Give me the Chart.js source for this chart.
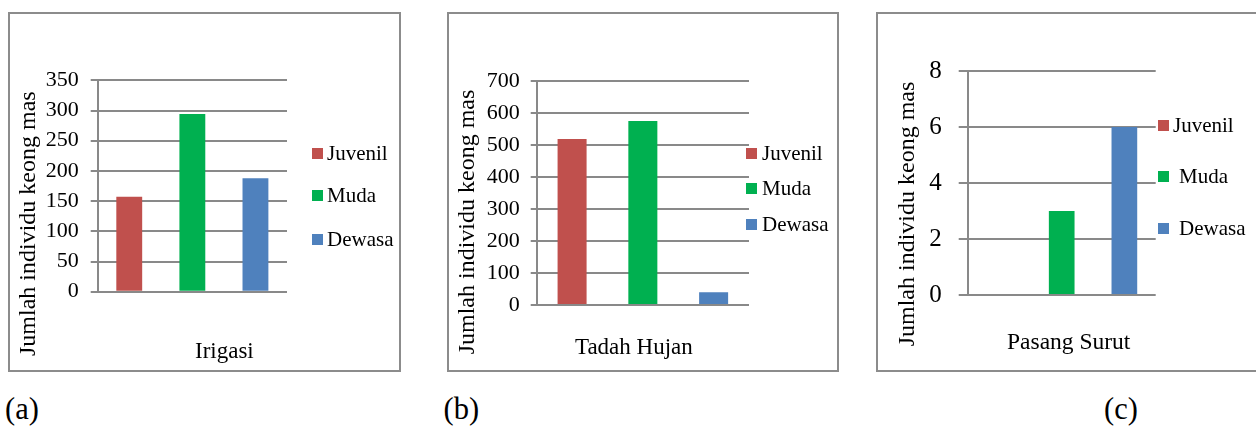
<!DOCTYPE html>
<html>
<head>
<meta charset="utf-8">
<script src="https://cdn.jsdelivr.net/npm/chart.js@4.4.1/dist/chart.umd.min.js"></script>
<style>
  html, body { margin: 0; padding: 0; background: #fff; }
  body { width: 1256px; height: 426px; position: relative; overflow: hidden;
         font-family: "Liberation Serif", "Times New Roman", serif; color: #000; }
  .panel { position: absolute; top: 12px; height: 360px; box-sizing: border-box;
           border: 2px solid #8c8c8c; }
  canvas.plot { position: absolute; top: 12px; }
  .key { position: absolute; width: 11px; height: 11px; }
  .key-text { position: absolute; font-size: 21px; line-height: 21px; white-space: pre; }
  .tag { position: absolute; font-size: 30.5px; line-height: 30.5px; }
</style>
</head>
<body>
<script>
// ---- data ----
const seriesNames = ['Juvenil', 'Muda', 'Dewasa'];

const irigasiCategory = ['Irigasi'];
const irigasiValues = [157, 294, 188];
const irigasiTicks = [0, 50, 100, 150, 200, 250, 300, 350];

const tadahHujanCategory = ['Tadah Hujan'];
const tadahHujanValues = [519, 575, 40];
const tadahHujanTicks = [0, 100, 200, 300, 400, 500, 600, 700];

const pasangSurutCategory = ['Pasang Surut'];
const pasangSurutValues = [0, 3, 6];
const pasangSurutTicks = [0, 2, 4, 6, 8];

const yAxisTitle = 'Jumlah individu keong mas';
const panelTags = ['(a)', '(b)', '(c)'];

// ---- styles ----
const seriesColors = ['#C0504D', '#00B050', '#4F81BD'];
const gridColor = '#898989';
const serif = '"Liberation Serif", "Times New Roman", serif';

// ---- per-panel layout ----
const panels = [
  { category: irigasiCategory, values: irigasiValues, ticks: irigasiTicks,
    left: 8, width: 393,
    pad: { top: 68.3, right: 114, bottom: 5, left: 0 },
    titlePad: 6.5, yWidth: 54.4, xHeight: 75.3,
    tickSize: 22, tickLen: 7, tickPad: 12,
    catSize: 23, catPad: 46.9, catShift: 32,
    keyX: 312, keyY: [148, 190, 234], keyTextX: [327, 327, 327],
    tagX: 5, tagY: 394 },
  { category: tadahHujanCategory, values: tadahHujanValues, ticks: tadahHujanTicks,
    left: 447, width: 392,
    pad: { top: 69, right: 90, bottom: 9, left: 0 },
    titlePad: 6.1, yWidth: 54.8, xHeight: 58,
    tickSize: 22, tickLen: 6, tickPad: 11,
    catSize: 23, catPad: 29.2, catShift: -9,
    keyX: 746, keyY: [148, 183, 219], keyTextX: [762, 762, 762],
    tagX: 443.5, tagY: 394 },
  { category: pasangSurutCategory, values: pasangSurutValues, ticks: pasangSurutTicks,
    left: 876, width: 400,
    pad: { top: 59, right: 120.3, bottom: 15, left: 0 },
    titlePad: 17.1, yWidth: 45.8, xHeight: 62,
    tickSize: 25, tickLen: 9, tickPad: 17,
    catSize: 23.5, catPad: 33.7, catShift: 7,
    keyX: 1158, keyY: [119.5, 171, 223], keyTextX: [1173, 1179, 1179],
    tagX: 1104, tagY: 394 }
];

Chart.defaults.font.family = serif;

function addEl(cls, css, text) {
  const el = document.createElement('div');
  el.className = cls;
  Object.assign(el.style, css);
  if (text !== undefined) el.textContent = text;
  document.body.appendChild(el);
  return el;
}

panels.forEach((p, idx) => {
  // frame around each chart
  addEl('panel', { left: p.left + 'px', width: p.width + 'px' });

  const canvas = document.createElement('canvas');
  canvas.className = 'plot';
  canvas.width = p.width;
  canvas.height = 360;
  canvas.style.left = p.left + 'px';
  document.body.appendChild(canvas);

  const yMin = p.ticks[0];
  const yMax = p.ticks[p.ticks.length - 1];
  const yStep = p.ticks[1] - p.ticks[0];

  new Chart(canvas, {
    type: 'bar',
    data: {
      labels: p.category,
      datasets: seriesNames.map((name, i) => ({
        label: name,
        data: [p.values[i]],
        backgroundColor: seriesColors[i],
        borderWidth: 0,
        categoryPercentage: 1,
        barPercentage: 0.41
      }))
    },
    options: {
      responsive: false,
      maintainAspectRatio: false,
      animation: false,
      devicePixelRatio: 1,
      layout: { padding: p.pad },
      plugins: {
        legend: { display: false },
        tooltip: { enabled: false },
        title: {
          display: true,
          text: yAxisTitle,
          position: 'left',
          align: 'center',
          color: '#000',
          font: { family: serif, size: 24, weight: 'normal', lineHeight: 1.2 },
          padding: { top: p.titlePad, bottom: 0 }
        }
      },
      scales: {
        x: {
          offset: true,
          grid: { display: false, drawTicks: false },
          border: { display: false },
          ticks: {
            color: '#000',
            font: { family: serif, size: p.catSize, lineHeight: 1.2 },
            padding: p.catPad,
            labelOffset: p.catShift,
            maxRotation: 0,
            autoSkip: false
          },
          afterFit: (s) => { s.height = p.xHeight; }
        },
        y: {
          min: yMin,
          max: yMax,
          grid: { color: gridColor, lineWidth: 2, drawTicks: true, tickLength: p.tickLen },
          border: { display: true, color: gridColor, width: 2 },
          ticks: {
            stepSize: yStep,
            color: '#000',
            font: { family: serif, size: p.tickSize },
            padding: p.tickPad
          },
          afterFit: (s) => { s.width = p.yWidth; }
        }
      }
    }
  });

  // series key beside each chart
  seriesNames.forEach((name, i) => {
    addEl('key', { left: p.keyX + 'px', top: p.keyY[i] + 'px', background: seriesColors[i] });
    addEl('key-text', { left: p.keyTextX[i] + 'px', top: (p.keyY[i] - 5) + 'px' }, name);
  });

  addEl('tag', { left: p.tagX + 'px', top: p.tagY + 'px' }, panelTags[idx]);
});
</script>
</body>
</html>
